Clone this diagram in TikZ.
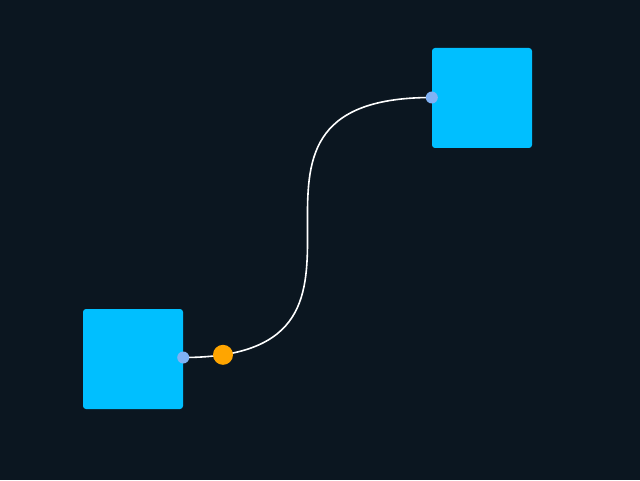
\documentclass[tikz,border=0pt]{standalone}
\usetikzlibrary{positioning}
\definecolor{bgdark}{RGB}{11,22,32}
\definecolor{boxcyan}{RGB}{0,191,255}
\definecolor{portblue}{RGB}{128,178,245}
\definecolor{dotorange}{RGB}{255,165,0}
\tikzset{
  box/.style={fill=boxcyan, rounded corners=3pt, minimum size=100pt, inner sep=0pt},
  port/.style={circle, fill=portblue, minimum size=12pt, inner sep=0pt},
  marker/.style={circle, fill=dotorange, minimum size=20pt, inner sep=0pt}
}
\begin{document}
\begin{tikzpicture}[x=1pt,y=1pt]
      \fill[bgdark] (0,0) rectangle (640,480);
      \useasboundingbox (0,0) rectangle (640,480);

      \node[box] (src) at (133,121) {};
      \node[box] (dst) at (482,382) {};
      \coordinate (srcpin) at ([yshift=1.5pt]src.east);
      \coordinate (dstpin) at ([yshift=0.5pt]dst.west);

      \draw[white, line width=1.6pt] (srcpin) .. controls +(250,0) and +(-250,0) .. (dstpin)
        node[marker, pos=0.06] (mid) {};
      \node[port] (srcport) at (srcpin) {};
      \node[port] (dstport) at (dstpin) {};
    \end{tikzpicture}
\end{document}
